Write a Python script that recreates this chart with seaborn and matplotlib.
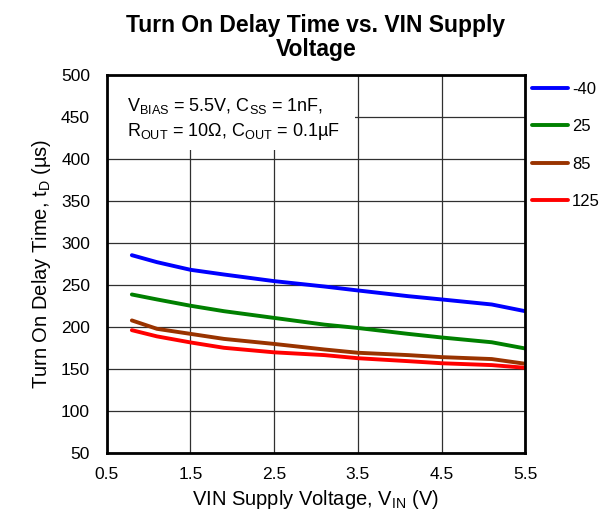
import numpy as np
import pandas as pd
import seaborn as sns
import matplotlib.pyplot as plt
from matplotlib.patches import Rectangle

# values
vin = [0.8, 1.1, 1.5, 1.9, 2.5, 3.1, 3.5, 4.1, 4.5, 5.1, 5.5]
td_m40 = [285.7, 277.4, 268.3, 262.7, 254.8, 248.4, 243.7, 236.9, 233.0, 227.0, 219.0]
td_25 = [238.9, 233.0, 225.5, 219.0, 211.0, 203.0, 199.0, 192.0, 187.7, 182.0, 174.6]
td_85 = [208.0, 198.0, 192.0, 186.0, 180.0, 173.4, 169.5, 166.7, 164.3, 162.0, 156.4]
td_125 = [196.4, 189.0, 181.8, 175.4, 170.0, 166.7, 163.0, 159.5, 157.0, 154.8, 151.6]
temps = ['-40', '25', '85', '125']
colors = ['#0000ff', '#008000', '#993300', '#ff0000']

rows = []
for t, vals in zip(temps, [td_m40, td_25, td_85, td_125]):
    for v, d in zip(vin, vals):
        rows.append({'VIN': v, 'tD': d, 'Temp': t})
df = pd.DataFrame(rows)

sns.set_style('white')
plt.rcParams['font.family'] = ['Liberation Sans', 'DejaVu Sans']
plt.rcParams['mathtext.fontset'] = 'custom'
plt.rcParams['mathtext.rm'] = 'Liberation Sans'
plt.rcParams['mathtext.it'] = 'Liberation Sans'
plt.rcParams['mathtext.default'] = 'regular'
plt.rcParams['text.color'] = 'black'
plt.rcParams['axes.labelcolor'] = 'black'
plt.rcParams['xtick.color'] = 'black'
plt.rcParams['ytick.color'] = 'black'

fig = plt.figure(figsize=(6.1, 5.19), dpi=100)
ax = fig.add_axes([0.175, 0.127, 0.686, 0.728])

sns.lineplot(data=df, x='VIN', y='tD', hue='Temp', hue_order=temps,
             palette=colors, linewidth=2.8, ax=ax, zorder=3)

ax.set_xlim(0.5, 5.5)
ax.set_ylim(50, 500)
ax.set_xticks([0.5, 1.5, 2.5, 3.5, 4.5, 5.5])
ax.set_yticks(np.arange(50, 501, 50))
ax.grid(True, color='#303030', linewidth=0.9)
ax.tick_params(axis='both', labelsize=12.5, direction='in', length=4, color='black')
ax.tick_params(axis='y', pad=12)
ax.tick_params(axis='x', pad=10)
for s in ax.spines.values():
    s.set_color('black')
    s.set_linewidth(2)
    s.set_zorder(6)

ax.set_xlabel('VIN Supply Voltage, V$_{IN}$ (V)', fontsize=14.5, labelpad=4)
ax.set_ylabel('Turn On Delay Time, t$_{D}$ (µs)', fontsize=14.5, labelpad=6)
ax.set_title('Turn On Delay Time vs. VIN Supply\nVoltage', fontsize=16.5,
             fontweight='bold', pad=14, linespacing=1.05, color='black')

# white patch behind the conditions text (hides grid there)
ax.add_patch(Rectangle((0, 1 - 75 / 378), 248 / 418, 75 / 378, transform=ax.transAxes,
                       facecolor='white', edgecolor='none', zorder=4))
ax.text(0.048, 0.945, 'V$_{BIAS}$ = 5.5V, C$_{SS}$ = 1nF,\nR$_{OUT}$ = 10Ω, C$_{OUT}$ = 0.1µF',
        transform=ax.transAxes, fontsize=13, va='top', ha='left', linespacing=1.3,
        zorder=5)

leg = ax.legend(loc='upper left', bbox_to_anchor=(1.0, 1.0), frameon=False,
                fontsize=12, handlelength=2.15, handletextpad=0.25,
                labelspacing=1.34, borderaxespad=0, borderpad=0.4, title=None)

fig.savefig('out.png', dpi=100)
